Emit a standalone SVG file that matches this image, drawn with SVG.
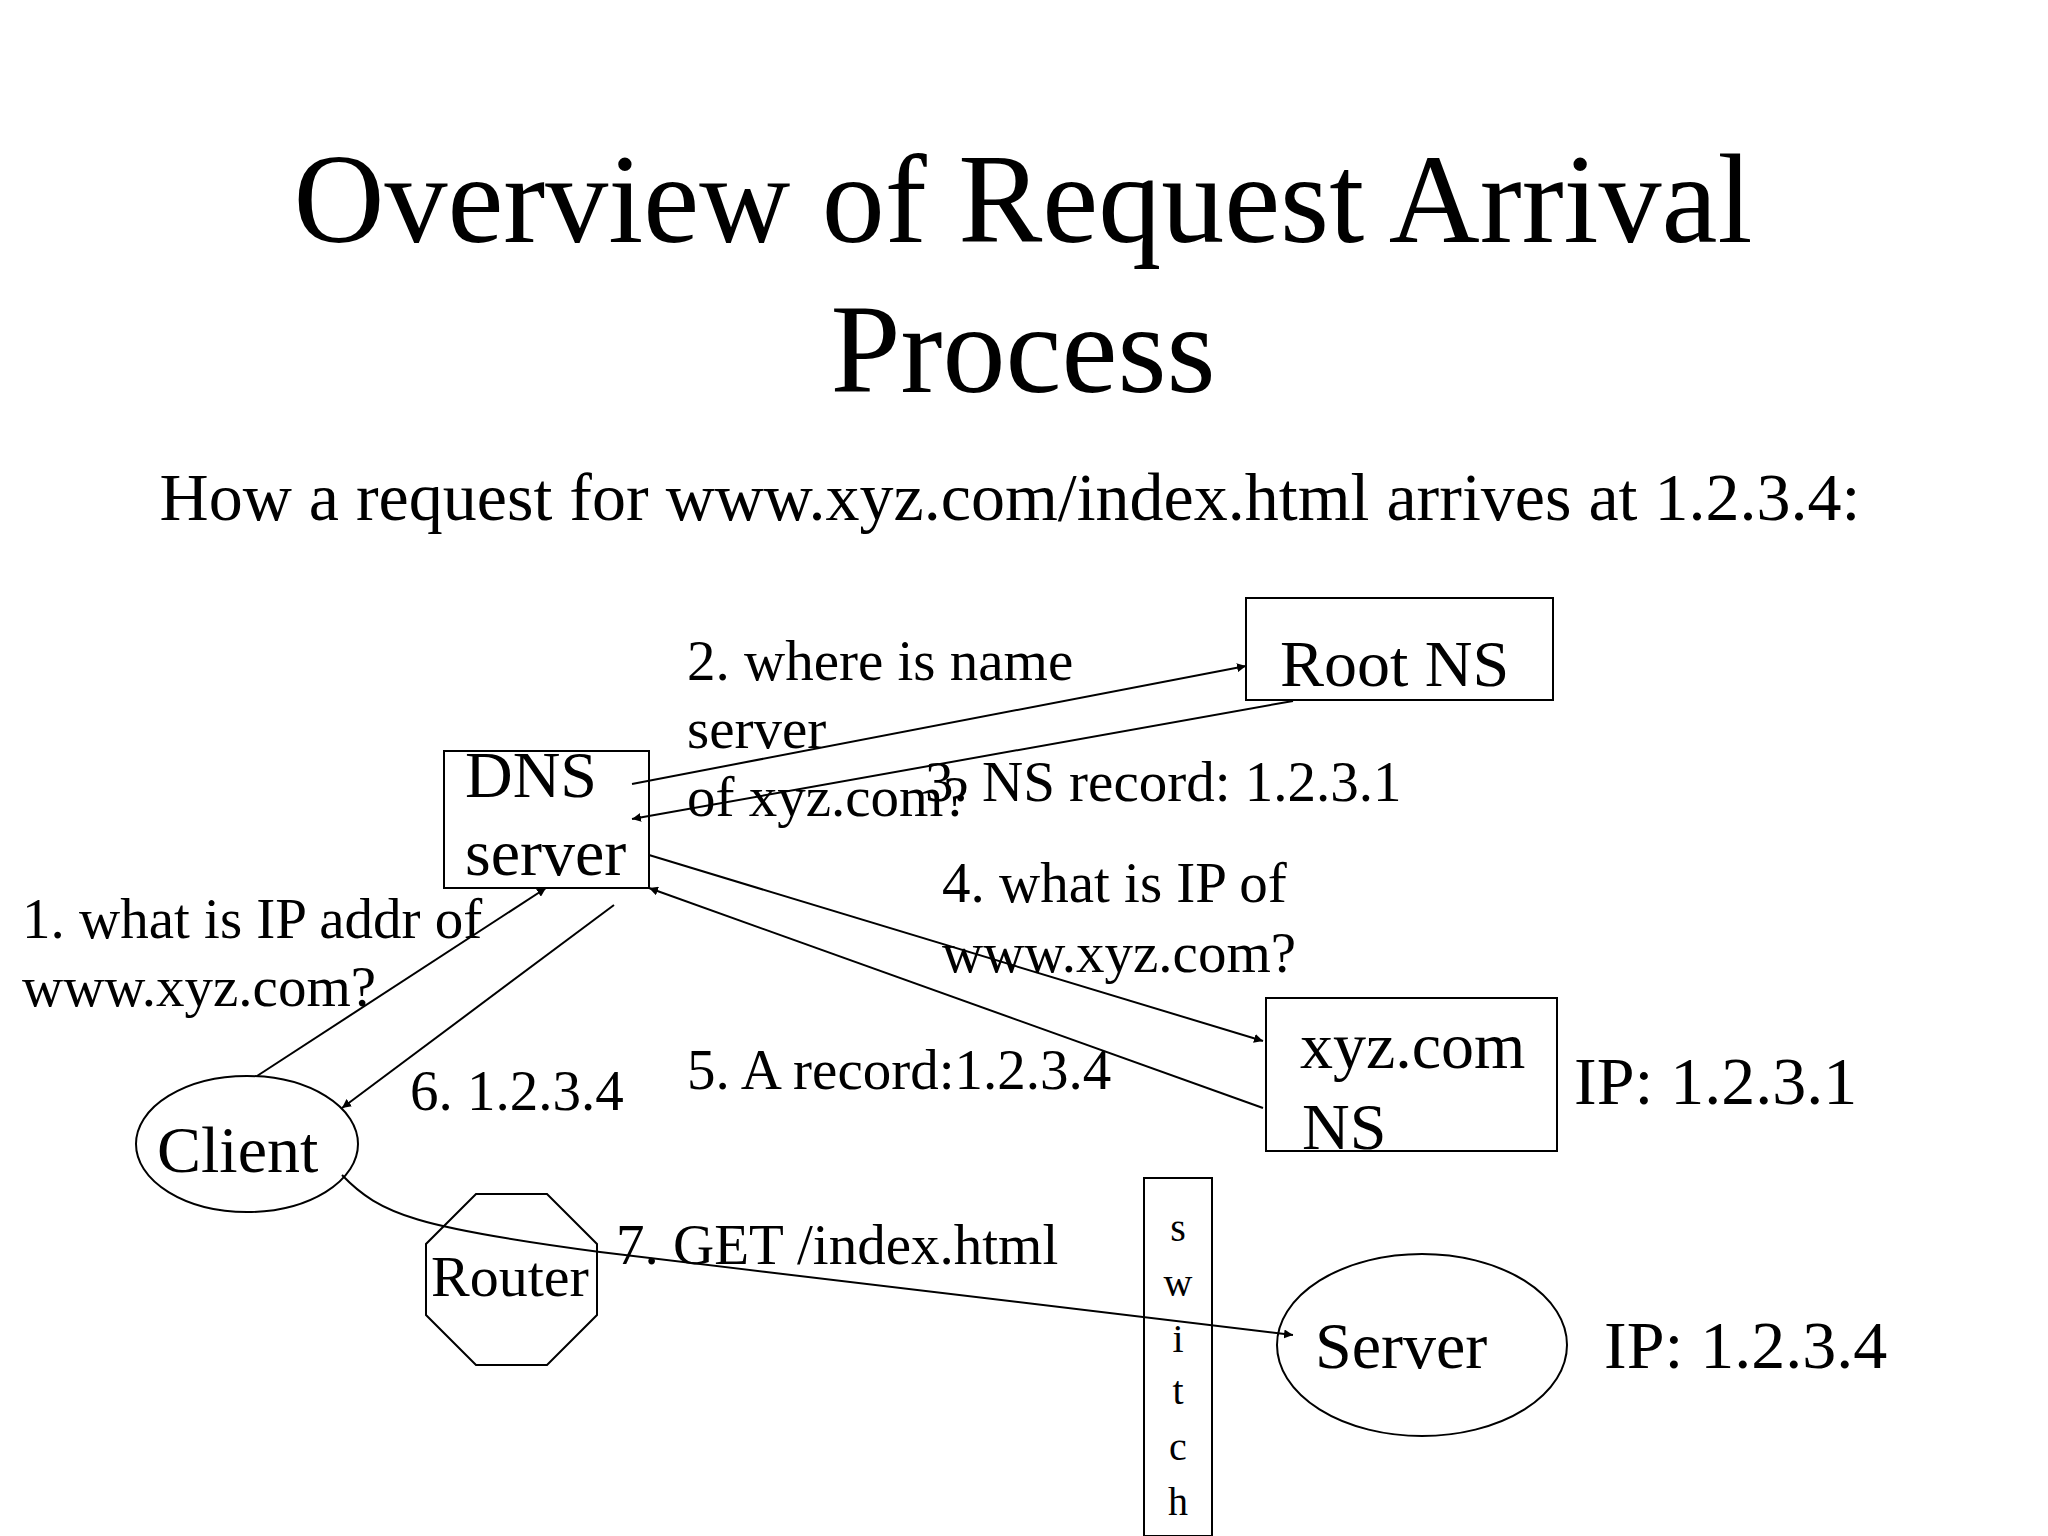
<svg xmlns="http://www.w3.org/2000/svg" width="2048" height="1536" viewBox="0 0 2048 1536">
<style>
text{font-family:"Liberation Serif","Times New Roman",serif;fill:#000}
.t{font-size:126px;text-anchor:middle}
.s{font-size:68px;text-anchor:middle}
.n{font-size:66px}
.ip{font-size:68px}
.l{font-size:57px}
.r{font-size:58px}
.sw{font-size:40px;text-anchor:middle}
.b{fill:#fff;stroke:#000;stroke-width:2}
.c{fill:none;stroke:#000;stroke-width:2}
</style>
<defs><marker id="a" viewBox="0 0 10 10" refX="10" refY="5" markerWidth="9" markerHeight="9" orient="auto" markerUnits="userSpaceOnUse"><path d="M0,0L10,5L0,10z" fill="#000"/></marker></defs>
<rect width="2048" height="1536" fill="#fff"/>
<text class="t" x="1023" y="242">Overview of Request Arrival</text>
<text class="t" x="1023" y="392">Process</text>
<text class="s" x="1010" y="520">How a request for www.xyz.com/index.html arrives at 1.2.3.4:</text>
<g id="root"><rect class="b" x="1246" y="598" width="307" height="102"/><text class="n" x="1280" y="686">Root NS</text></g>
<g id="dns"><rect class="b" x="444" y="751" width="205" height="137"/><text class="n" x="465" y="797">DNS</text><text class="n" x="465" y="875">server</text></g>
<g id="xyz"><rect class="b" x="1266" y="998" width="291" height="153"/><text class="n" x="1300" y="1068">xyz.com</text><text class="n" x="1302" y="1149">NS</text></g>
<g id="client"><ellipse class="b" cx="247" cy="1144" rx="111" ry="68"/><text class="n" x="157" y="1172">Client</text></g>
<g id="router"><polygon class="b" points="476,1194 547,1194 597,1244 597,1315 547,1365 476,1365 426,1315 426,1244"/><text class="r" x="431" y="1296">Router</text></g>
<g id="switch"><rect class="b" x="1144" y="1178" width="68" height="358"/>
<text class="sw" x="1178" y="1241">s</text><text class="sw" x="1178" y="1296">w</text><text class="sw" x="1178" y="1352">i</text><text class="sw" x="1178" y="1404">t</text><text class="sw" x="1178" y="1460">c</text><text class="sw" x="1178" y="1515">h</text></g>
<g id="server"><ellipse class="b" cx="1422" cy="1345" rx="145" ry="91"/><text class="n" x="1315" y="1368">Server</text></g>
<g id="connectors">
<line class="c" x1="632" y1="784" x2="1246" y2="666" marker-end="url(#a)"/>
<line class="c" x1="1293" y1="701" x2="632" y2="819" marker-end="url(#a)"/>
<line class="c" x1="649" y1="855" x2="1263" y2="1041" marker-end="url(#a)"/>
<line class="c" x1="1263" y1="1108" x2="649" y2="888" marker-end="url(#a)"/>
<line class="c" x1="257" y1="1076" x2="546" y2="888" marker-end="url(#a)"/>
<line class="c" x1="614" y1="905" x2="342" y2="1108" marker-end="url(#a)"/>
<path class="c" d="M342,1175 C380,1215 420,1228 600,1252 L1293,1335" marker-end="url(#a)"/>
</g>
<g id="labels">
<text class="ip" x="1574" y="1104">IP: 1.2.3.1</text>
<text class="ip" x="1604" y="1368">IP: 1.2.3.4</text>
<text class="l" x="687" y="680">2. where is name</text>
<text class="l" x="687" y="748">server</text>
<text class="l" x="687" y="816">of xyz.com?</text>
<text class="l" x="925" y="801">3. NS record: 1.2.3.1</text>
<text class="l" x="942" y="902">4. what is IP of</text>
<text class="l" x="942" y="972">www.xyz.com?</text>
<text class="l" x="22" y="938">1. what is IP addr of</text>
<text class="l" x="22" y="1006">www.xyz.com?</text>
<text class="l" x="410" y="1110">6. 1.2.3.4</text>
<text class="l" x="687" y="1089">5. A record:1.2.3.4</text>
<text class="l" x="616" y="1264">7. GET /index.html</text>
</g>
</svg>
